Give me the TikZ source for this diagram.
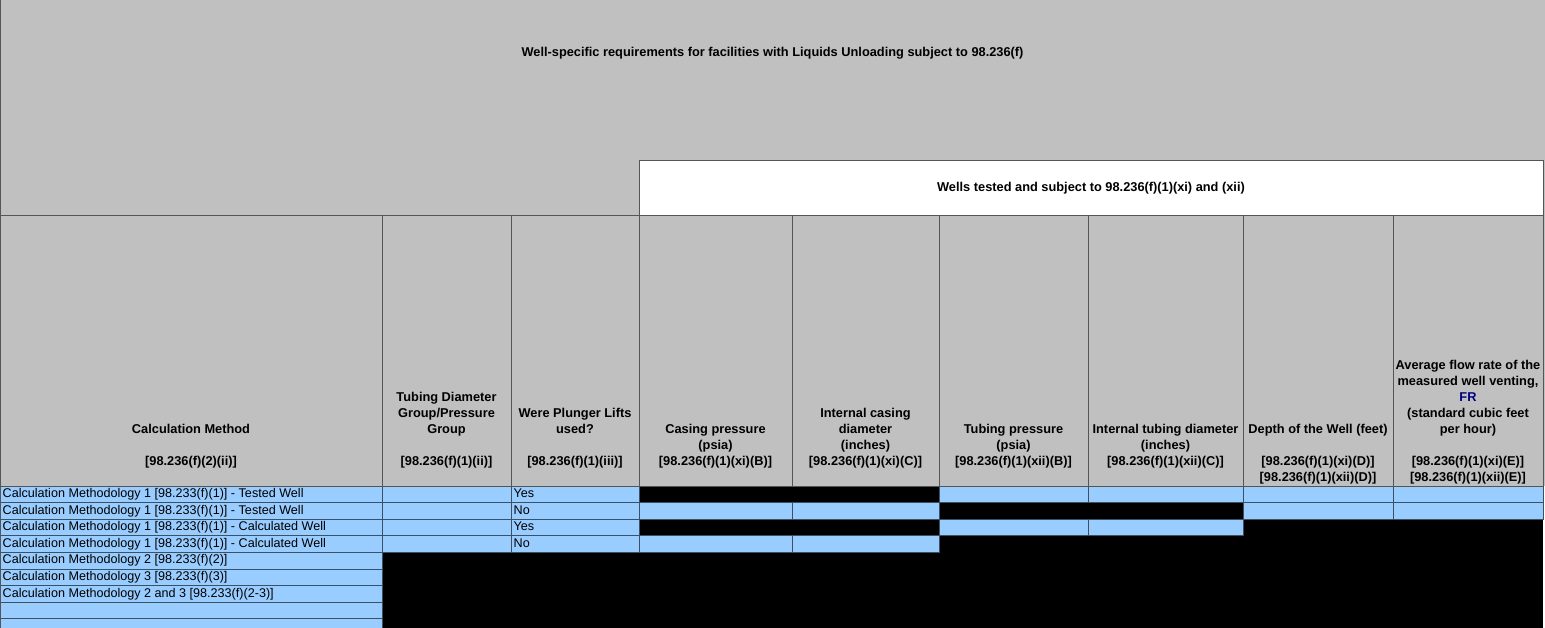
\documentclass[tikz,border=0pt]{standalone}
\usepackage{fontspec}
\setmainfont{Liberation Sans}
\usepackage{xcolor}
\usepackage{tikz}
\usetikzlibrary{positioning}
\definecolor{xlGray}{RGB}{192, 192, 192}
\definecolor{xlBlue}{RGB}{153, 204, 255}
\definecolor{xlLine}{RGB}{85, 85, 85}
\definecolor{xlCellLine}{RGB}{60, 80, 100}
\definecolor{xlNavy}{RGB}{0, 0, 128}
\newcommand{\hdrfont}{\fontsize{12.8}{16}\selectfont\bfseries}
\newcommand{\cellfont}{\fontsize{12.6}{16}\selectfont}

\begin{document}
\begin{tikzpicture}[x=1pt, y=-1pt,
    hdr/.style={font=\hdrfont, align=center, inner sep=0pt},
    cell/.style={font=\cellfont, anchor=west, inner sep=0pt, text height=9.2pt, text depth=2.8pt},
    grid line/.style={draw=xlLine, line width=0.8pt},
    blue cell/.style={fill=xlBlue, draw=xlCellLine, line width=0.8pt}]
  \useasboundingbox (0,0) rectangle (1545,627);
  \clip (0,0) rectangle (1545,627);

  % Column and row boundaries
  \foreach \x [count=\i from 0] in {0,382,511,639,792,939,1088,1243,1393,1543}
    \coordinate (cx\i) at (\x,0);
  \foreach \y [count=\i from 0] in {486,502.6,519.2,535.8,552.4,569,585.6,602.2,618.8,640}
    \coordinate (ry\i) at (0,\y);
  \coordinate (tt) at (0,160);
  \coordinate (ht) at (0,215);

  % Header Background
  \fill[xlGray] (0,0) rectangle (1545,486);
  \fill[white] (cx3 |- tt) rectangle (cx9 |- ht);

  % Data Area (black = not required)
  \fill[black] (cx1 |- ry0) rectangle (cx9 |- ry9);
  \foreach \r/\cols in {1/{1,2,3,6,7,8,9}, 2/{1,2,3,4,5,8,9}, 3/{1,2,3,6,7}, 4/{1,2,3,4,5},
                         5/{1}, 6/{1}, 7/{1}, 8/{1}, 9/{1}} {
      \pgfmathtruncatemacro{\rp}{\r-1}
      \foreach \c in \cols {
          \pgfmathtruncatemacro{\cp}{\c-1}
          \draw[blue cell] (cx\cp |- ry\rp) rectangle (cx\c |- ry\r);
      }
  }

  % Header Grid
  \draw[grid line] (cx0 |- ht) -- (cx9 |- ht);
  \draw[grid line] (cx0 |- ry0) -- (cx9 |- ry0);
  \foreach \i in {0,...,9}
      \draw[grid line] (cx\i |- ht) -- (cx\i |- ry0);
  \draw[grid line] (cx3 |- ht) -- (cx3 |- tt) -- (cx9 |- tt) -- (cx9 |- ht);
  \draw[grid line] (cx0) -- (cx0 |- ry9);

  % Titles
  \node[hdr] (title) at (772.5,53) {Well-specific requirements for facilities with Liquids Unloading subject to 98.236(f)};
  \node[hdr] (tested) at (1091,188) {Wells tested and subject to 98.236(f)(1)(xi) and (xii)};

  % Column Headers
  \foreach \cx/\lab/\lb/\code [count=\i] in {
      191/{Calculation Method}/434/{[98.236(f)(2)(ii)]},
      446.5/{Tubing Diameter\\Group/Pressure\\Group}/434/{[98.236(f)(1)(ii)]},
      575/{Were Plunger Lifts\\used?}/434/{[98.236(f)(1)(iii)]},
      715.5/{Casing pressure\\(psia)}/450/{[98.236(f)(1)(xi)(B)]},
      865.5/{Internal casing\\diameter\\(inches)}/450/{[98.236(f)(1)(xi)(C)]},
      1013.5/{Tubing pressure\\(psia)}/450/{[98.236(f)(1)(xii)(B)]},
      1165.5/{Internal tubing diameter\\(inches)}/450/{[98.236(f)(1)(xii)(C)]},
      1318/{Depth of the Well (feet)}/434/{[98.236(f)(1)(xi)(D)]\\{}[98.236(f)(1)(xii)(D)]},
      1468/{Average flow rate of the\\measured well venting,\\\textcolor{xlNavy}{FR}\\(standard cubic feet\\per hour)}/434/{[98.236(f)(1)(xi)(E)]\\{}[98.236(f)(1)(xii)(E)]}} {
      \node[hdr, anchor=south] (h\i) at (\cx,\lb+4.8) {\lab\strut};
      \node[hdr, anchor=north] (r\i) at (\cx,454.5) {\strut\code};
  }

  % Calculation Methods
  \foreach \t [count=\i] in {
      {Calculation Methodology 1 [98.233(f)(1)] - Tested Well},
      {Calculation Methodology 1 [98.233(f)(1)] - Tested Well},
      {Calculation Methodology 1 [98.233(f)(1)] - Calculated Well},
      {Calculation Methodology 1 [98.233(f)(1)] - Calculated Well},
      {Calculation Methodology 2 [98.233(f)(2)]},
      {Calculation Methodology 3 [98.233(f)(3)]},
      {Calculation Methodology 2 and 3 [98.233(f)(2-3)]}}
      \node[cell] (m\i) at (2.5,{486+16.6*(\i-0.5)}) {\t};

  % Plunger Lifts
  \foreach \t [count=\i] in {Yes, No, Yes, No}
      \node[cell] (p\i) at (513.5,{486+16.6*(\i-0.5)}) {\t};
\end{tikzpicture}
\end{document}
